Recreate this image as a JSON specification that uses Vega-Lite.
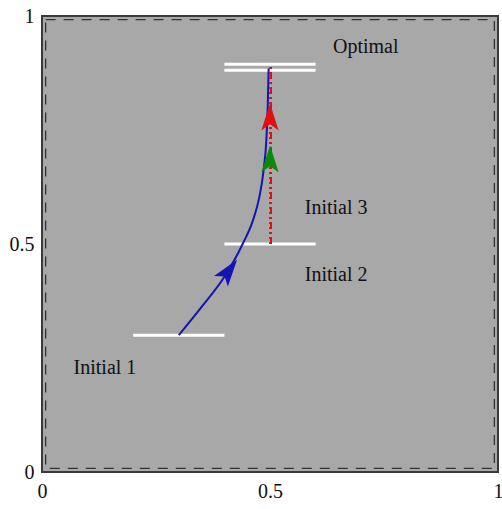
{
  "$schema": "https://vega.github.io/schema/vega-lite/v6.json",
  "width": 456,
  "height": 456,
  "autosize": {"type": "none"},
  "padding": {"left": 42, "top": 16, "right": 4, "bottom": 37},
  "background": "white",
  "config": {
    "view": {"fill": "#a8a8a8", "stroke": "#3a3a3a", "strokeWidth": 2},
    "axis": {"domain": false, "ticks": false, "grid": false, "labelFont": "Liberation Serif", "labelFontSize": 20, "labelColor": "#111", "labelFlush": false, "title": null}
  },
  "datasets": {
    "frame": [{"x": 0.008, "x2": 0.992, "y": 0.008, "y2": 0.992}],
    "segs": [
      {"x": 0.2, "x2": 0.4, "y": 0.3},
      {"x": 0.4, "x2": 0.6, "y": 0.5},
      {"x": 0.4, "x2": 0.6, "y": 0.881},
      {"x": 0.4, "x2": 0.6, "y": 0.894}
    ],
    "curve": [
      {"x": 0.3, "y": 0.3},
      {"x": 0.35, "y": 0.362},
      {"x": 0.4, "y": 0.428},
      {"x": 0.44, "y": 0.5},
      {"x": 0.463, "y": 0.553},
      {"x": 0.476, "y": 0.6},
      {"x": 0.486, "y": 0.662},
      {"x": 0.492, "y": 0.728},
      {"x": 0.495, "y": 0.8},
      {"x": 0.497, "y": 0.885}
    ],
    "vert": [{"x": 0.5, "y": 0.5, "y2": 0.89}],
    "arrows": [
      {"x": 0.405, "y": 0.435, "angle": 37, "c": "blue"},
      {"x": 0.5, "y": 0.678, "angle": 0, "c": "green"},
      {"x": 0.5, "y": 0.77, "angle": 0, "c": "red"}
    ],
    "labels": [
      {"x": 0.71, "y": 0.932, "t": "Optimal"},
      {"x": 0.645, "y": 0.578, "t": "Initial 3"},
      {"x": 0.645, "y": 0.432, "t": "Initial 2"},
      {"x": 0.138, "y": 0.228, "t": "Initial 1"}
    ]
  },
  "encoding": {
    "x": {"field": "x", "type": "quantitative", "scale": {"domain": [0, 1], "nice": false, "zero": false}, "axis": {"values": [0, 0.5, 1], "format": ".1~f", "labelPadding": 9}},
    "y": {"field": "y", "type": "quantitative", "scale": {"domain": [0, 1], "nice": false, "zero": false}, "axis": {"values": [0, 0.5, 1], "format": ".1~f", "labelPadding": 8}}
  },
  "layer": [
    {
      "data": {"name": "frame"},
      "mark": {"type": "rect", "fill": null, "fillOpacity": 0, "stroke": "#333", "strokeWidth": 1.3, "strokeDash": [10, 8]},
      "encoding": {"x2": {"field": "x2"}, "y2": {"field": "y2"}}
    },
    {
      "data": {"name": "segs"},
      "mark": {"type": "rule", "color": "white", "strokeWidth": 3},
      "encoding": {"x2": {"field": "x2"}}
    },
    {
      "data": {"name": "curve"},
      "mark": {"type": "line", "color": "#1414b4", "strokeWidth": 2, "interpolate": "monotone"},
      "encoding": {"order": {"field": "y"}}
    },
    {
      "data": {"name": "vert"},
      "mark": {"type": "rule", "color": "#0a8a0a", "strokeWidth": 2, "strokeDash": [2, 3]},
      "encoding": {"y2": {"field": "y2"}}
    },
    {
      "data": {"name": "vert"},
      "mark": {"type": "rule", "color": "#e01010", "strokeWidth": 2, "strokeDash": [7, 3, 2, 3], "xOffset": 1},
      "encoding": {"y2": {"field": "y2"}}
    },
    {
      "data": {"name": "arrows"},
      "mark": {"type": "point", "filled": true, "opacity": 1, "shape": "M0,-1 L0.5,0.55 L0,0.2 L-0.5,0.55 Z", "size": 1200},
      "encoding": {
        "angle": {"field": "angle", "type": "quantitative", "scale": null},
        "color": {"field": "c", "type": "nominal", "scale": {"domain": ["blue", "green", "red"], "range": ["#1414b4", "#0a8a0a", "#e01010"]}, "legend": null}
      }
    },
    {
      "data": {"name": "labels"},
      "mark": {"type": "text", "font": "Liberation Serif", "fontSize": 20, "color": "#111"},
      "encoding": {"text": {"field": "t"}}
    }
  ]
}
